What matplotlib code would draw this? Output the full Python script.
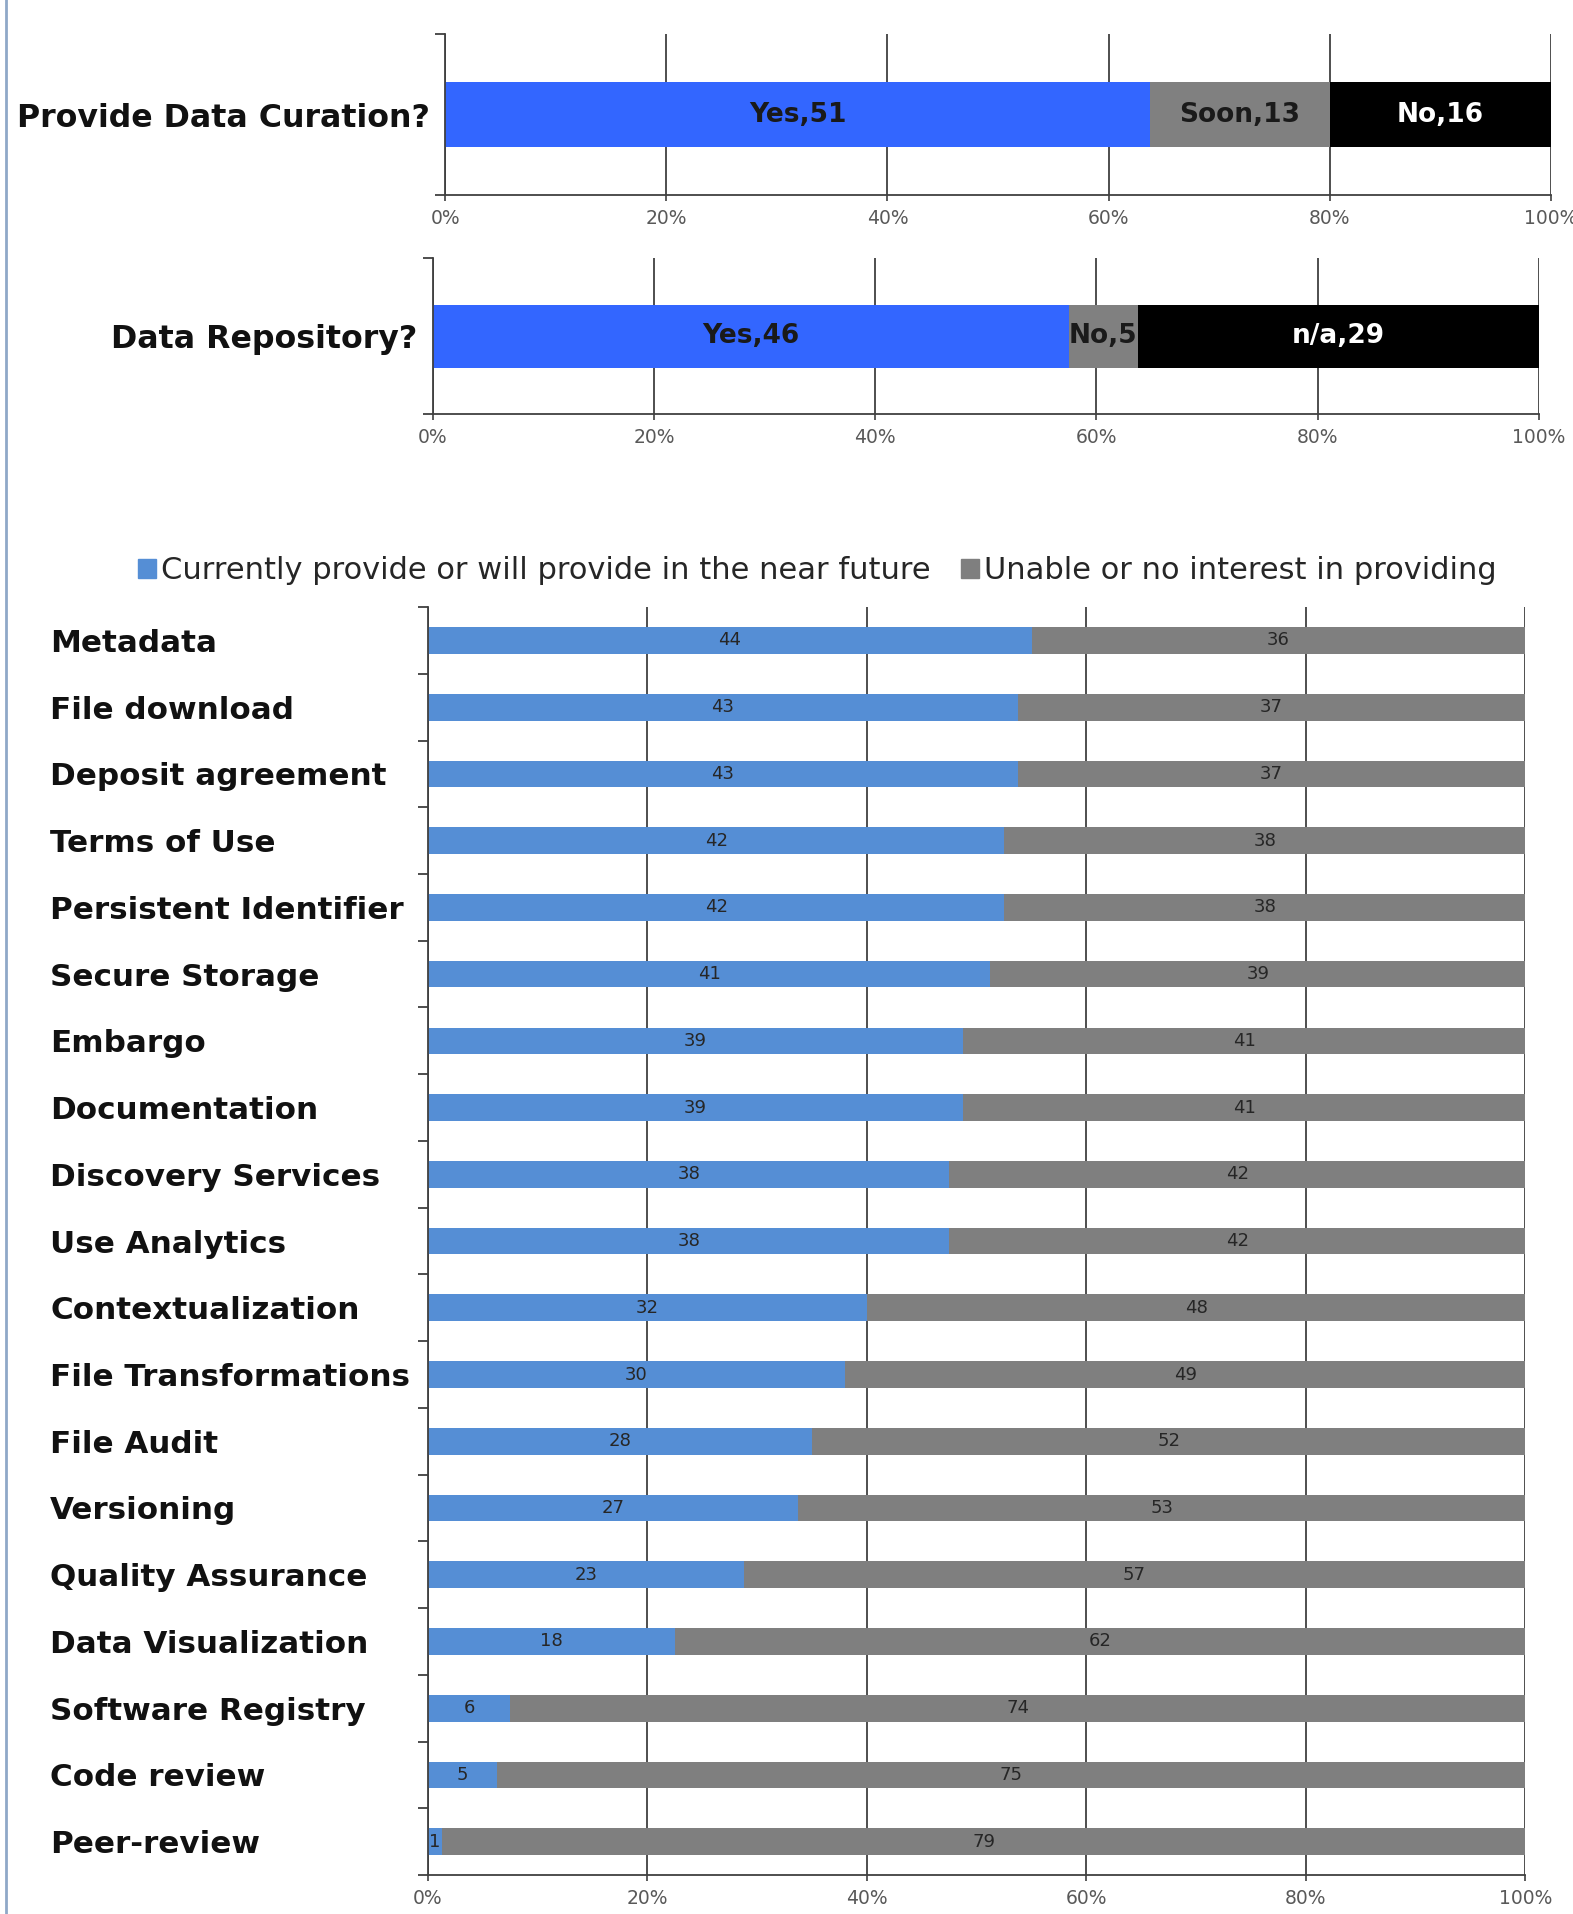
import matplotlib
matplotlib.use("Agg")
import matplotlib.pyplot as plt
from matplotlib.ticker import PercentFormatter, FixedLocator
from matplotlib.lines import Line2D
from matplotlib.patches import Patch

plt.rcParams['font.family'] = ['DejaVu Sans']

# ---- data ----
curation_names = ["Yes", "Soon", "No"]
curation_values = [51, 13, 16]
repo_names = ["Yes", "No", "n/a"]
repo_values = [46, 5, 29]

categories = ["Metadata", "File download", "Deposit agreement", "Terms of Use",
              "Persistent Identifier", "Secure Storage", "Embargo", "Documentation",
              "Discovery Services", "Use Analytics", "Contextualization",
              "File Transformations", "File Audit", "Versioning", "Quality Assurance",
              "Data Visualization", "Software Registry", "Code review", "Peer-review"]
provide = [44, 43, 43, 42, 42, 41, 39, 39, 38, 38, 32, 30, 28, 27, 23, 18, 6, 5, 1]
unable = [36, 37, 37, 38, 38, 39, 41, 41, 42, 42, 48, 49, 52, 53, 57, 62, 74, 75, 79]
series_names = ["Currently provide or will provide in the near future",
                "Unable or no interest in providing"]
xticks = [0, 0.2, 0.4, 0.6, 0.8, 1.0]

W, H = 1573, 1914
fig = plt.figure(figsize=(W / 100, H / 100), dpi=100)

DW, DH = 1290, 1570  # display reference frame


def rect(l, r, t, b):
    return [l / DW, 1 - b / DH, (r - l) / DW, (b - t) / DH]


grid_c = '#404040'
tick_c = '#595959'


def style_axis(ax, nboundaries):
    ax.set_xlim(0, 1)
    ax.xaxis.set_major_locator(FixedLocator(xticks))
    ax.xaxis.set_major_formatter(PercentFormatter(1.0, decimals=0))
    ax.tick_params(axis='x', colors=grid_c, labelcolor=tick_c, labelsize=13.5,
                   length=4, width=1.2, direction='out', pad=6)
    ax.grid(axis='x', color=grid_c, linewidth=1.3, zorder=0)
    ax.set_axisbelow(True)
    for s in ['top', 'right']:
        ax.spines[s].set_visible(False)
    for s in ['left', 'bottom']:
        ax.spines[s].set_color(grid_c)
        ax.spines[s].set_linewidth(1.3)
    ax.yaxis.set_minor_locator(FixedLocator(nboundaries))
    ax.tick_params(axis='y', which='minor', length=7, width=1.3, color=grid_c, direction='out')
    ax.tick_params(axis='y', which='major', length=0, pad=11)


def stacked_single(ax, label, names, values, colors, txtcolors):
    total = sum(values)
    left = 0
    for n, v, c, tc in zip(names, values, colors, txtcolors):
        frac = v / total
        cont = ax.barh([0], [frac], left=[left], height=0.4, color=c, zorder=2)
        ax.bar_label(cont, labels=[f"{n},{v}"], label_type='center', color=tc,
                     fontsize=19, fontweight='bold')
        left += frac
    ax.set_ylim(-0.5, 0.5)
    ax.set_yticks([0])
    ax.set_yticklabels([label], fontsize=22.8, fontweight='bold', color='#111111')
    style_axis(ax, [-0.5, 0.5])


ax1 = fig.add_axes(rect(365, 1272, 28, 160))
stacked_single(ax1, "Provide Data Curation?", curation_names, curation_values,
               ['#3366FF', '#808080', '#000000'], ['#1a1a1a', '#1a1a1a', 'white'])

ax2 = fig.add_axes(rect(355, 1262, 212, 340))
stacked_single(ax2, "Data Repository?", repo_names, repo_values,
               ['#3366FF', '#808080', '#000000'], ['#1a1a1a', '#1a1a1a', 'white'])

ax3 = fig.add_axes(rect(351, 1251, 498, 1538))
ypos = list(range(len(categories)))
tot = [p + u for p, u in zip(provide, unable)]
pf = [p / t for p, t in zip(provide, tot)]
uf = [u / t for u, t in zip(unable, tot)]
c1 = ax3.barh(ypos, pf, height=0.4, color='#558ED5', zorder=2, label=series_names[0])
c2 = ax3.barh(ypos, uf, left=pf, height=0.4, color='#7F7F7F', zorder=2, label=series_names[1])
ax3.bar_label(c1, labels=[str(v) for v in provide], label_type='center', fontsize=13, color='#262626')
ax3.bar_label(c2, labels=[str(v) for v in unable], label_type='center', fontsize=13, color='#262626')
ax3.set_ylim(len(categories) - 0.5, -0.5)
ax3.set_yticks(ypos)
ax3.set_yticklabels(categories, fontsize=22.3, fontweight='bold', color='#111111', ha='left')
style_axis(ax3, [i - 0.5 for i in range(len(categories) + 1)])
ax3.tick_params(axis='y', which='major', pad=272)

handles = [Patch(color='#558ED5'), Patch(color='#7F7F7F')]
fig.legend(handles, series_names, loc='center', bbox_to_anchor=(670 / DW, 1 - 468 / DH),
           ncol=2, frameon=False, fontsize=22, handlelength=0.6, handleheight=0.6,
           handletextpad=0.15, columnspacing=1.0, labelcolor='#262626')

fig.add_artist(Line2D([0.004, 0.004], [0, 1], transform=fig.transFigure,
                      color='#8FA8C8', linewidth=2))

fig.savefig("out.png", dpi=100)
